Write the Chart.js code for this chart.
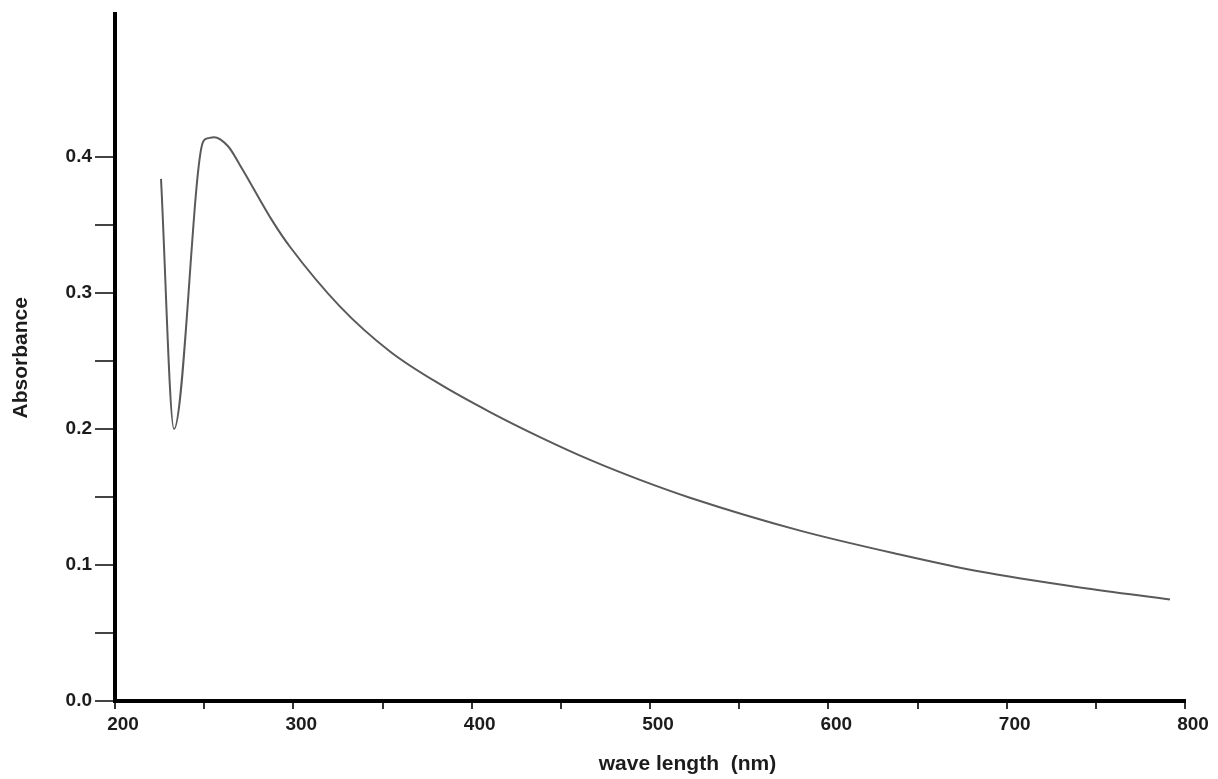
<!DOCTYPE html>
<html>
<head>
<meta charset="utf-8">
<script src="https://cdn.jsdelivr.net/npm/chart.js@4/dist/chart.umd.min.js"></script>
<style>
	html, body { margin: 0; padding: 0; background: #fff; }
	#wrap { width: 1218px; height: 779px; }
</style>
</head>
<body>
<div id="wrap"><canvas id="myChart"></canvas></div>
<script>
// spectrum
var wavelength = [225.8, 233.1, 249.3, 252.1, 255.5, 263.4, 270.1, 288.6, 298.1, 326.2, 354.2, 382.2, 410.3, 438.3, 466.4, 494.4, 522.4, 584.1, 640.2, 685, 741.1, 791.6];
var absorbance = [0.384, 0.200, 0.411, 0.4139, 0.4147, 0.408, 0.3941, 0.3524, 0.3341, 0.2901, 0.2571, 0.2330, 0.2125, 0.1941, 0.1773, 0.1626, 0.1495, 0.1253, 0.1077, 0.0952, 0.0835, 0.0747];

var xTicks = [200, 250, 300, 350, 400, 450, 500, 550, 600, 650, 700, 750, 800];
var yTicks = [0, 0.05, 0.1, 0.15, 0.2, 0.25, 0.3, 0.35, 0.4];

var fontName = '"Liberation Sans", Arial, sans-serif';
var textColor = "#1c1c1c";

var points = [];
for (var i = 0; i < wavelength.length; i++) {
	points.push({ x: wavelength[i], y: absorbance[i] });
}

// x title sits a bit right of centre in the original
var xTitle = {
	id: 'xTitle',
	afterDraw: function(chart) {
		var ctx = chart.ctx;
		ctx.save();
		ctx.font = 'bold 21px ' + fontName;
		ctx.fillStyle = textColor;
		ctx.textAlign = 'center';
		ctx.textBaseline = 'middle';
		ctx.fillText('wave length  (nm)', chart.scales.x.getPixelForValue(521), 764);
		ctx.restore();
	}
};

var ctx = document.getElementById("myChart");
var myChart = new Chart(ctx, {
	type: 'scatter',
	data: {
		datasets: [{
			data: points,
			showLine: true,
			borderColor: '#5a5a5a',
			borderWidth: 2,
			pointRadius: 0,
			cubicInterpolationMode: 'monotone'
		}]
	},
	plugins: [xTitle],
	options: {
		responsive: true,
		maintainAspectRatio: false,
		animation: false,
		layout: { padding: { top: 12, right: 33, left: 0, bottom: 0 } },
		plugins: {
			legend: { display: false },
			tooltip: { enabled: false }
		},
		scales: {
			x: {
				type: 'linear',
				min: 200,
				max: 800,
				afterFit: function(scale) { scale.height = 78; },
				afterBuildTicks: function(scale) {
					scale.ticks = xTicks.map(function(v) { return { value: v }; });
				},
				border: { display: true, width: 4, color: '#000' },
				grid: { drawOnChartArea: false, drawTicks: true, tickLength: 8, color: '#333', lineWidth: 2 },
				ticks: {
					autoSkip: false,
					maxRotation: 0,
					padding: 4,
					labelOffset: 8,
					color: textColor,
					font: { family: fontName, size: 19, weight: 'bold' },
					callback: function(v) { return v % 100 === 0 ? String(v) : ''; }
				}
			},
			y: {
				type: 'linear',
				min: 0,
				max: 0.505,
				afterFit: function(scale) { scale.width = 115; },
				afterBuildTicks: function(scale) {
					scale.ticks = yTicks.map(function(v) { return { value: v }; });
				},
				border: { display: true, width: 4, color: '#000' },
				grid: { drawOnChartArea: false, drawTicks: true, tickLength: 20, color: '#444', lineWidth: 2 },
				title: {
					display: true,
					text: 'Absorbance',
					color: textColor,
					font: { family: fontName, size: 21, weight: 'bold' },
					padding: { top: 9, bottom: 0 }
				},
				ticks: {
					autoSkip: false,
					padding: 3,
					color: textColor,
					font: { family: fontName, size: 19, weight: 'bold' },
					callback: function(v) {
						var r = Math.round(v * 100);
						return r % 10 === 0 ? (r / 100).toFixed(1) : '';
					}
				}
			}
		}
	}
});
</script>
</body>
</html>
